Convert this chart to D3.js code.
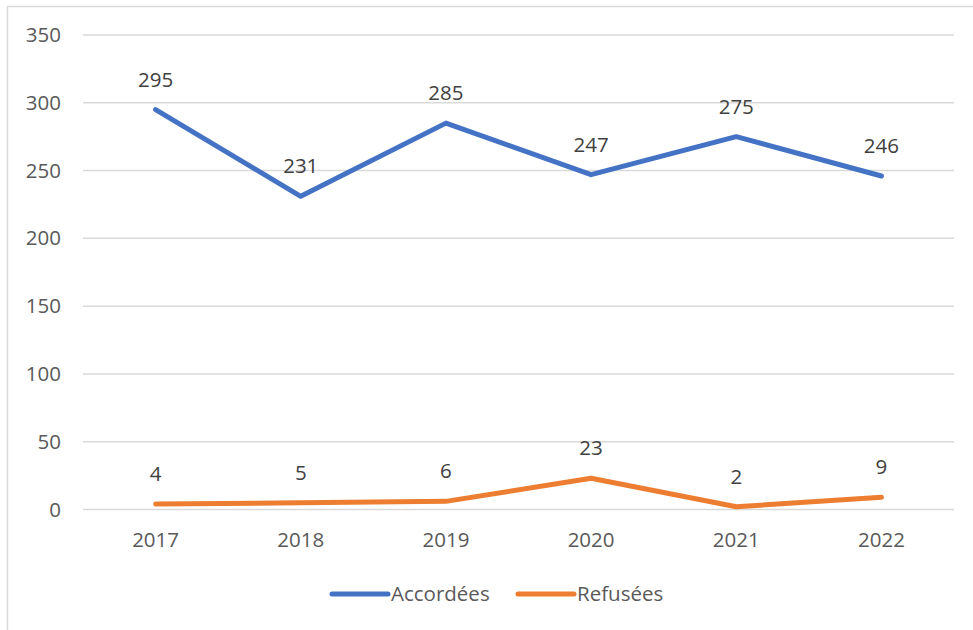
<!DOCTYPE html>
<html>
<head>
<meta charset="utf-8">
<script src="https://cdn.jsdelivr.net/npm/d3@7"></script>
<style>
  body { margin: 0; background: #fff; }
  text { font-family: "Open Sans", "Noto Sans", sans-serif; }
</style>
</head>
<body>
<div id="chart"></div>
<script>
var years = ['2017', '2018', '2019', '2020', '2021', '2022']
var accordees = [295, 231, 285, 247, 275, 246]
var refusees = [4, 5, 6, 23, 2, 9]
var yTicks = [0, 50, 100, 150, 200, 250, 300, 350]

var series = [
  {name: 'Accordées', values: accordees, color: '#4472C4'},
  {name: 'Refusées', values: refusees, color: '#ED7D31'}
]

var width = 973, height = 630
var margin = {left: 83, right: 19, top: 35, bottom: 120.5}
var fs = 20.5

var svg = d3.select('#chart').append('svg')
  .attr('width', width)
  .attr('height', height)

// chart frame (runs past the right and bottom edges)
svg.append('rect')
  .attr('x', 7.5).attr('y', 6.5)
  .attr('width', width + 10).attr('height', height + 10)
  .attr('fill', 'none').attr('stroke', '#d9d9d9').attr('stroke-width', 1.5)

var g = svg.append('g').attr('transform', 'translate(' + margin.left + ',' + margin.top + ')')
var w = width - margin.left - margin.right
var h = height - margin.top - margin.bottom

var x = d3.scaleBand().domain(years).range([0, w])
var y = d3.scaleLinear().domain([0, 350]).range([h, 0])

// gridlines
g.append('g').selectAll('line').data(yTicks).join('line')
  .attr('x1', 0).attr('x2', w)
  .attr('y1', d => y(d)).attr('y2', d => y(d))
  .attr('stroke', '#d9d9d9').attr('stroke-width', 1.5)

var yAxis = g.append('g')
  .call(d3.axisLeft(y).tickValues(yTicks).tickSize(0).tickPadding(22))
yAxis.select('.domain').remove()
yAxis.selectAll('text').attr('font-size', fs).attr('fill', '#595959')

var xAxis = g.append('g').attr('transform', 'translate(0,' + h + ')')
  .call(d3.axisBottom(x).tickSize(0).tickPadding(23))
xAxis.select('.domain').remove()
xAxis.selectAll('text').attr('font-size', fs).attr('fill', '#595959')

var line = d3.line()
  .x((d, i) => x(years[i]) + x.bandwidth() / 2)
  .y(d => y(d))

series.forEach(function(s){
  g.append('path')
    .attr('d', line(s.values))
    .attr('fill', 'none')
    .attr('stroke', s.color)
    .attr('stroke-width', 5)
    .attr('stroke-linecap', 'round')
    .attr('stroke-linejoin', 'round')

  g.append('g').selectAll('text').data(s.values).join('text')
    .attr('x', (d, i) => x(years[i]) + x.bandwidth() / 2)
    .attr('y', d => y(d) - 23)
    .attr('text-anchor', 'middle')
    .attr('font-size', fs)
    .attr('fill', '#404040')
    .text(d => d)
})

// legend
var legendX = [332, 518]
var legend = svg.append('g')
series.forEach(function(s, i){
  legend.append('line')
    .attr('x1', legendX[i]).attr('x2', legendX[i] + 56)
    .attr('y1', 594).attr('y2', 594)
    .attr('stroke', s.color).attr('stroke-width', 5)
    .attr('stroke-linecap', 'round')
  legend.append('text')
    .attr('x', legendX[i] + 59).attr('y', 594)
    .attr('dy', '0.35em')
    .attr('font-size', fs)
    .attr('fill', '#595959')
    .text(s.name)
})
</script>
</body>
</html>
